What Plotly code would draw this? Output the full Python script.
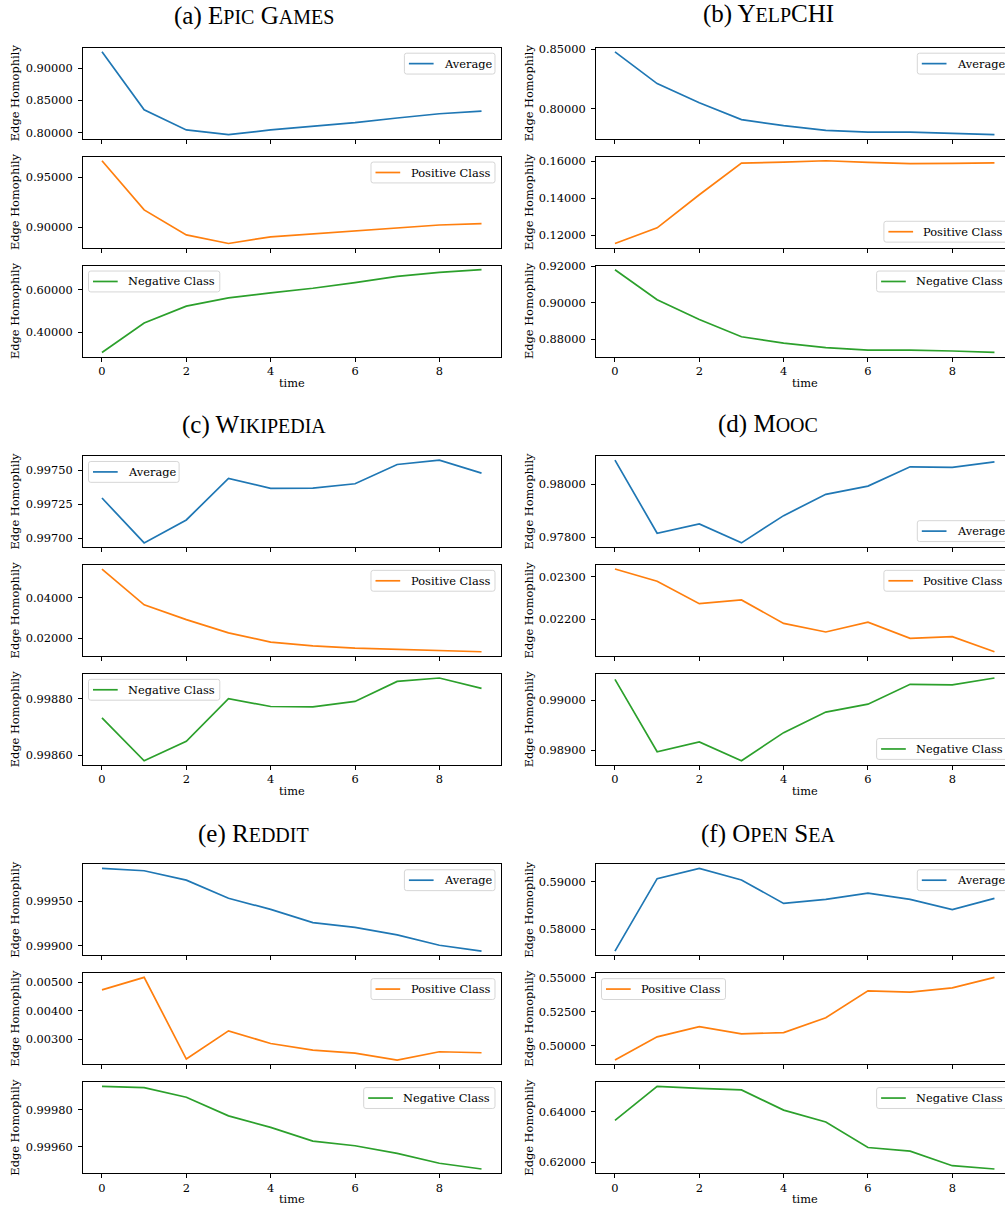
import plotly.graph_objects as go

# ---------------- data ----------------
time = list(range(10))

epic_avg = [0.9251, 0.8354, 0.8041, 0.7969, 0.8041, 0.8097, 0.8154, 0.8226, 0.8292, 0.8333]
epic_pos = [0.9664, 0.9174, 0.8924, 0.8839, 0.8905, 0.8934, 0.8964, 0.8987, 0.9023, 0.9036]
epic_neg = [0.3047, 0.4438, 0.5234, 0.5625, 0.5859, 0.6078, 0.6344, 0.6641, 0.6828, 0.6953]

yelp_avg = [0.8480, 0.8212, 0.8050, 0.7908, 0.7858, 0.7818, 0.7802, 0.7802, 0.7793, 0.7782]
yelp_pos = [0.1157, 0.1241, 0.1419, 0.1589, 0.1595, 0.1602, 0.1593, 0.1586, 0.1588, 0.1591]
yelp_neg = [0.9180, 0.9016, 0.8907, 0.8813, 0.8778, 0.8753, 0.8740, 0.8740, 0.8735, 0.8727]

wiki_avg = [0.997295, 0.996966, 0.997134, 0.997439, 0.997366, 0.997368, 0.997400, 0.997541, 0.997573, 0.997478]
wiki_pos = [0.0540, 0.0364, 0.0291, 0.0226, 0.01805, 0.01626, 0.01512, 0.01447, 0.01366, 0.01333]
wiki_neg = [0.998732, 0.998580, 0.998649, 0.998800, 0.998772, 0.998771, 0.998790, 0.998861, 0.998873, 0.998836]

mooc_avg = [0.980918, 0.978151, 0.978503, 0.977786, 0.978818, 0.979623, 0.979937, 0.980667, 0.980642, 0.980855]
mooc_pos = [0.023178, 0.022891, 0.022364, 0.022450, 0.021899, 0.021698, 0.021930, 0.021550, 0.021589, 0.021233]
mooc_neg = [0.990414, 0.988974, 0.989171, 0.988796, 0.989355, 0.989763, 0.989921, 0.990316, 0.990303, 0.990441]

reddit_avg = [0.999863, 0.999837, 0.999733, 0.999530, 0.999407, 0.999259, 0.999207, 0.999122, 0.999007, 0.998941]
reddit_pos = [0.004733, 0.005174, 0.002302, 0.003291, 0.002849, 0.002616, 0.002512, 0.002267, 0.002558, 0.002523]
reddit_neg = [0.999925, 0.999918, 0.999866, 0.999766, 0.999704, 0.999630, 0.999605, 0.999564, 0.999511, 0.999480]

sea_avg = [0.57542, 0.590694, 0.592847, 0.590417, 0.585486, 0.586319, 0.587639, 0.586319, 0.584167, 0.586528]
sea_pos = [0.48951, 0.50659, 0.51415, 0.50878, 0.50976, 0.52073, 0.54049, 0.53951, 0.54268, 0.55049]
sea_neg = [0.63658, 0.65013, 0.64934, 0.64868, 0.64066, 0.63592, 0.62579, 0.62434, 0.61855, 0.61724]

# tick values per subplot
epic_ticks = [[0.80, 0.85, 0.90], [0.90, 0.95], [0.4, 0.6]]
yelp_ticks = [[0.80, 0.85], [0.12, 0.14, 0.16], [0.88, 0.90, 0.92]]
wiki_ticks = [[0.997, 0.99725, 0.9975], [0.02, 0.04], [0.9986, 0.9988]]
mooc_ticks = [[0.978, 0.980], [0.022, 0.023], [0.989, 0.990]]
reddit_ticks = [[0.999, 0.9995], [0.003, 0.004, 0.005], [0.9996, 0.9998]]
sea_ticks = [[0.58, 0.59], [0.500, 0.525, 0.550], [0.62, 0.64]]
x_ticks = [0, 2, 4, 6, 8]

series_names = ["Average", "Positive Class", "Negative Class"]
series_colors = ["#1f77b4", "#ff7f0e", "#2ca02c"]

# panel titles (small-caps emulation)
SC = "<span style='font-size:20px'>{}</span>"
panel_titles = [
    "(a) E" + SC.format("PIC") + " G" + SC.format("AMES"),
    "(b) Y" + SC.format("ELP") + "CHI",
    "(c) W" + SC.format("IKIPEDIA"),
    "(d) M" + SC.format("OOC"),
    "(e) R" + SC.format("EDDIT"),
    "(f) O" + SC.format("PEN") + " S" + SC.format("EA"),
]
panel_data = [
    (epic_avg, epic_pos, epic_neg),
    (yelp_avg, yelp_pos, yelp_neg),
    (wiki_avg, wiki_pos, wiki_neg),
    (mooc_avg, mooc_pos, mooc_neg),
    (reddit_avg, reddit_pos, reddit_neg),
    (sea_avg, sea_pos, sea_neg),
]
panel_ticks = [epic_ticks, yelp_ticks, wiki_ticks, mooc_ticks, reddit_ticks, sea_ticks]
legend_locs = [
    ["ur", "ur", "ul"],
    ["ur", "lr", "ur"],
    ["ul", "ur", "ul"],
    ["lr", "ur", "lr"],
    ["ur", "ur", "ur"],
    ["ur", "ul", "ur"],
]

# ---------------- layout geometry (pixels) ----------------
W, H = 1005, 1212
col_left = [83.0, 596.0]
col_right = [500.5, 1013.4]
col_xrange = [[-0.45, 9.45], [-0.45, 9.25]]
row_offset = [0, 411, 822]
sub_top = [41.0, 150.6, 260.3]
sub_h = 91.6
title_cx = [254, 768]
title_cy = [[9.5, 421, 832], [7.5, 420, 832]]
ylab_cx = [15, 529]
FONT = "DejaVu Serif"
FS = 11.4
INSET = 5.5
LEG_H = 21.0
LEG_W = [90.6, 124.0, 131.3]


def px_x(p):
    return p / W


def px_y(p):
    return 1 - p / H


def rounded_rect(x0, y0, x1, y1, r=2.3):
    X = lambda v: f"{v / W:.6f}"
    Y = lambda v: f"{1 - v / H:.6f}"
    return (f"M {X(x0 + r)},{Y(y0)} L {X(x1 - r)},{Y(y0)} Q {X(x1)},{Y(y0)} {X(x1)},{Y(y0 + r)} "
            f"L {X(x1)},{Y(y1 - r)} Q {X(x1)},{Y(y1)} {X(x1 - r)},{Y(y1)} "
            f"L {X(x0 + r)},{Y(y1)} Q {X(x0)},{Y(y1)} {X(x0)},{Y(y1 - r)} "
            f"L {X(x0)},{Y(y0 + r)} Q {X(x0)},{Y(y0)} {X(x0 + r)},{Y(y0)} Z")


fig = go.Figure()
layout = dict(
    width=W, height=H,
    margin=dict(l=0, r=0, t=0, b=0),
    paper_bgcolor="white", plot_bgcolor="white",
    font=dict(family=FONT, size=FS, color="black"),
    showlegend=False,
    annotations=[], shapes=[],
)

for p in range(6):
    r, c = p // 2, p % 2
    for s in range(3):
        k = p * 3 + s + 1
        vals = panel_data[p][s]
        top = row_offset[r] + sub_top[s]
        bot = top + sub_h
        lo, hi = min(vals), max(vals)
        span = hi - lo
        yr = [lo - 0.05 * span, hi + 0.05 * span]
        fig.add_trace(go.Scatter(
            x=time, y=vals, mode="lines", name=series_names[s],
            line=dict(color=series_colors[s], width=1.7),
            xaxis=f"x{k}", yaxis=f"y{k}",
        ))
        sfx = "" if k == 1 else str(k)
        layout["xaxis" + sfx] = dict(
            domain=[px_x(col_left[c]), min(1.0, px_x(col_right[c]))],
            range=col_xrange[c], anchor=f"y{k}",
            tickvals=x_ticks, showticklabels=(s == 2),
            ticks="outside", ticklen=4, tickwidth=0.9, tickcolor="black",
            ticklabelstandoff=0,
            showline=True, linecolor="black", linewidth=0.9, mirror=True,
            showgrid=False, zeroline=False,
            tickfont=dict(family=FONT, size=FS, color="black"),
        )
        layout["yaxis" + sfx] = dict(
            domain=[px_y(bot), px_y(top)],
            range=yr, anchor=f"x{k}",
            tickvals=panel_ticks[p][s], tickformat=".5f",
            ticks="outside", ticklen=4, tickwidth=0.9, tickcolor="black",
            ticklabelstandoff=3,
            showline=True, linecolor="black", linewidth=0.9, mirror=(c == 0),
            showgrid=False, zeroline=False,
            tickfont=dict(family=FONT, size=FS, color="black"),
        )
        # legend box (matplotlib style)
        loc = legend_locs[p][s]
        lw = LEG_W[s]
        if loc[1] == "r":
            bx1 = col_right[c] - INSET
            bx0 = bx1 - lw
        else:
            bx0 = col_left[c] + INSET
            bx1 = bx0 + lw
        if loc[0] == "u":
            by0 = top + INSET
        else:
            by0 = bot - INSET - LEG_H
        by1 = by0 + LEG_H
        cy = (by0 + by1) / 2
        layout["shapes"].append(dict(
            type="path", xref="paper", yref="paper", path=rounded_rect(bx0, by0, bx1, by1),
            fillcolor="rgba(255,255,255,0.8)", line=dict(color="#d6d6d6", width=1), layer="above",
        ))
        layout["shapes"].append(dict(
            type="line", xref="paper", yref="paper",
            x0=px_x(bx0 + 4.5), x1=px_x(bx0 + 29.2), y0=px_y(cy), y1=px_y(cy),
            line=dict(color=series_colors[s], width=1.7), layer="above",
        ))
        layout["annotations"].append(dict(
            text=series_names[s], showarrow=False,
            xref="paper", yref="paper", x=px_x(bx0 + 37.5), y=px_y(cy),
            xanchor="left", yanchor="middle",
            font=dict(family=FONT, size=FS, color="black"),
        ))
        # y label
        layout["annotations"].append(dict(
            text="Edge Homophily", textangle=-90, showarrow=False,
            xref="paper", yref="paper", x=px_x(ylab_cx[c]), y=px_y((top + bot) / 2),
            xanchor="center", yanchor="middle",
            font=dict(family=FONT, size=FS, color="black"),
        ))
        if s == 2:
            layout["annotations"].append(dict(
                text="time", showarrow=False,
                xref="paper", yref="paper",
                x=px_x((col_left[c] + col_right[c]) / 2), y=px_y(bot + 26.5),
                xanchor="center", yanchor="middle",
                font=dict(family=FONT, size=FS, color="black"),
            ))
    layout["annotations"].append(dict(
        text=panel_titles[p], showarrow=False,
        xref="paper", yref="paper",
        x=px_x(title_cx[c]), y=px_y(title_cy[c][r]),
        xanchor="center", yanchor="middle",
        font=dict(family="Liberation Serif", size=25, color="black"),
    ))

fig.update_layout(**layout)
fig.write_html("out.html", config={"displayModeBar": False},
               post_script="document.body.style.margin='0';document.body.style.overflow='hidden';")
